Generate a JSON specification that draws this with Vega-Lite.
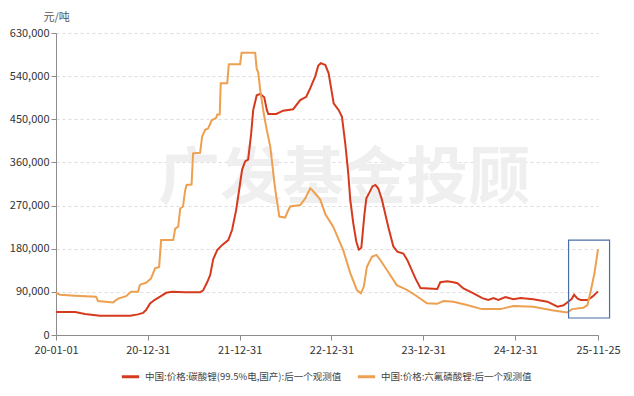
{
  "$schema": "https://vega.github.io/schema/vega-lite/v6.json",
  "autosize": {"type": "none"},
  "width": 542,
  "height": 302,
  "padding": {"left": 56, "top": 33, "right": 36, "bottom": 61},
  "background": "white",
  "config": {
    "font": "Noto Sans CJK SC",
    "view": {"stroke": null},
    "axis": {"labelFont": "Noto Sans CJK SC", "labelFontSize": 11, "labelColor": "#333333", "domainColor": "#8c8c8c", "tickColor": "#8c8c8c", "tickSize": 5}
  },
  "datasets": {
    "series": [
      {"date": "2020-01-01", "s": "中国:价格:碳酸锂(99.5%电,国产):后一个观测值", "v": 48000},
      {"date": "2020-03-17", "s": "中国:价格:碳酸锂(99.5%电,国产):后一个观测值", "v": 48000},
      {"date": "2020-04-25", "s": "中国:价格:碳酸锂(99.5%电,国产):后一个观测值", "v": 44000},
      {"date": "2020-06-24", "s": "中国:价格:碳酸锂(99.5%电,国产):后一个观测值", "v": 40000},
      {"date": "2020-10-22", "s": "中国:价格:碳酸锂(99.5%电,国产):后一个观测值", "v": 40000},
      {"date": "2020-11-22", "s": "中国:价格:碳酸锂(99.5%电,国产):后一个观测值", "v": 43000},
      {"date": "2020-12-12", "s": "中国:价格:碳酸锂(99.5%电,国产):后一个观测值", "v": 46000},
      {"date": "2020-12-24", "s": "中国:价格:碳酸锂(99.5%电,国产):后一个观测值", "v": 52000},
      {"date": "2021-01-09", "s": "中国:价格:碳酸锂(99.5%电,国产):后一个观测值", "v": 66000},
      {"date": "2021-01-29", "s": "中国:价格:碳酸锂(99.5%电,国产):后一个观测值", "v": 74000},
      {"date": "2021-02-18", "s": "中国:价格:碳酸锂(99.5%电,国产):后一个观测值", "v": 80000},
      {"date": "2021-03-14", "s": "中国:价格:碳酸锂(99.5%电,国产):后一个观测值", "v": 88000},
      {"date": "2021-04-07", "s": "中国:价格:碳酸锂(99.5%电,国产):后一个观测值", "v": 90000},
      {"date": "2021-05-28", "s": "中国:价格:碳酸锂(99.5%电,国产):后一个观测值", "v": 89000},
      {"date": "2021-07-27", "s": "中国:价格:碳酸锂(99.5%电,国产):后一个观测值", "v": 89000},
      {"date": "2021-08-08", "s": "中国:价格:碳酸锂(99.5%电,国产):后一个观测值", "v": 93000},
      {"date": "2021-08-24", "s": "中国:价格:碳酸锂(99.5%电,国产):后一个观测值", "v": 110000},
      {"date": "2021-09-05", "s": "中国:价格:碳酸锂(99.5%电,国产):后一个观测值", "v": 125000},
      {"date": "2021-09-17", "s": "中国:价格:碳酸锂(99.5%电,国产):后一个观测值", "v": 158000},
      {"date": "2021-10-03", "s": "中国:价格:碳酸锂(99.5%电,国产):后一个观测值", "v": 177000},
      {"date": "2021-10-23", "s": "中国:价格:碳酸锂(99.5%电,国产):后一个观测值", "v": 188000},
      {"date": "2021-11-16", "s": "中国:价格:碳酸锂(99.5%电,国产):后一个观测值", "v": 198000},
      {"date": "2021-12-01", "s": "中国:价格:碳酸锂(99.5%电,国产):后一个观测值", "v": 219000},
      {"date": "2021-12-17", "s": "中国:价格:碳酸锂(99.5%电,国产):后一个观测值", "v": 260000},
      {"date": "2021-12-29", "s": "中国:价格:碳酸锂(99.5%电,国产):后一个观测值", "v": 302000},
      {"date": "2022-01-10", "s": "中国:价格:碳酸锂(99.5%电,国产):后一个观测值", "v": 345000},
      {"date": "2022-01-22", "s": "中国:价格:碳酸锂(99.5%电,国产):后一个观测值", "v": 362000},
      {"date": "2022-02-03", "s": "中国:价格:碳酸锂(99.5%电,国产):后一个观测值", "v": 366000},
      {"date": "2022-02-15", "s": "中国:价格:碳酸锂(99.5%电,国产):后一个观测值", "v": 420000},
      {"date": "2022-02-23", "s": "中国:价格:碳酸锂(99.5%电,国产):后一个观测值", "v": 469000},
      {"date": "2022-03-09", "s": "中国:价格:碳酸锂(99.5%电,国产):后一个观测值", "v": 500000},
      {"date": "2022-03-23", "s": "中国:价格:碳酸锂(99.5%电,国产):后一个观测值", "v": 503000},
      {"date": "2022-04-08", "s": "中国:价格:碳酸锂(99.5%电,国产):后一个观测值", "v": 496000},
      {"date": "2022-04-18", "s": "中国:价格:碳酸锂(99.5%电,国产):后一个观测值", "v": 470000},
      {"date": "2022-04-24", "s": "中国:价格:碳酸锂(99.5%电,国产):后一个观测值", "v": 461000},
      {"date": "2022-05-26", "s": "中国:价格:碳酸锂(99.5%电,国产):后一个观测值", "v": 461000},
      {"date": "2022-06-22", "s": "中国:价格:碳酸锂(99.5%电,国产):后一个观测值", "v": 468000},
      {"date": "2022-08-01", "s": "中国:价格:碳酸锂(99.5%电,国产):后一个观测值", "v": 471000},
      {"date": "2022-08-29", "s": "中国:价格:碳酸锂(99.5%电,国产):后一个观测值", "v": 490000},
      {"date": "2022-09-22", "s": "中国:价格:碳酸锂(99.5%电,国产):后一个观测值", "v": 497000},
      {"date": "2022-10-08", "s": "中国:价格:碳酸锂(99.5%电,国产):后一个观测值", "v": 515000},
      {"date": "2022-10-28", "s": "中国:价格:碳酸锂(99.5%电,国产):后一个观测值", "v": 540000},
      {"date": "2022-11-09", "s": "中国:价格:碳酸锂(99.5%电,国产):后一个观测值", "v": 562000},
      {"date": "2022-11-19", "s": "中国:价格:碳酸锂(99.5%电,国产):后一个观测值", "v": 567000},
      {"date": "2022-12-07", "s": "中国:价格:碳酸锂(99.5%电,国产):后一个观测值", "v": 563000},
      {"date": "2022-12-20", "s": "中国:价格:碳酸锂(99.5%电,国产):后一个观测值", "v": 546000},
      {"date": "2023-01-09", "s": "中国:价格:碳酸锂(99.5%电,国产):后一个观测值", "v": 483000},
      {"date": "2023-01-29", "s": "中国:价格:碳酸锂(99.5%电,国产):后一个观测值", "v": 469000},
      {"date": "2023-02-11", "s": "中国:价格:碳酸锂(99.5%电,国产):后一个观测值", "v": 455000},
      {"date": "2023-02-24", "s": "中国:价格:碳酸锂(99.5%电,国产):后一个观测值", "v": 400000},
      {"date": "2023-03-08", "s": "中国:价格:碳酸锂(99.5%电,国产):后一个观测值", "v": 337000},
      {"date": "2023-03-16", "s": "中国:价格:碳酸锂(99.5%电,国产):后一个观测值", "v": 282000},
      {"date": "2023-03-28", "s": "中国:价格:碳酸锂(99.5%电,国产):后一个观测值", "v": 233000},
      {"date": "2023-04-09", "s": "中国:价格:碳酸锂(99.5%电,国产):后一个观测值", "v": 195000},
      {"date": "2023-04-19", "s": "中国:价格:碳酸锂(99.5%电,国产):后一个观测值", "v": 178000},
      {"date": "2023-04-29", "s": "中国:价格:碳酸锂(99.5%电,国产):后一个观测值", "v": 182000},
      {"date": "2023-05-11", "s": "中国:价格:碳酸锂(99.5%电,国产):后一个观测值", "v": 250000},
      {"date": "2023-05-19", "s": "中国:价格:碳酸锂(99.5%电,国产):后一个观测值", "v": 285000},
      {"date": "2023-05-29", "s": "中国:价格:碳酸锂(99.5%电,国产):后一个观测值", "v": 295000},
      {"date": "2023-06-12", "s": "中国:价格:碳酸锂(99.5%电,国产):后一个观测值", "v": 310000},
      {"date": "2023-06-24", "s": "中国:价格:碳酸锂(99.5%电,国产):后一个观测值", "v": 313000},
      {"date": "2023-07-06", "s": "中国:价格:碳酸锂(99.5%电,国产):后一个观测值", "v": 305000},
      {"date": "2023-07-20", "s": "中国:价格:碳酸锂(99.5%电,国产):后一个观测值", "v": 282000},
      {"date": "2023-08-14", "s": "中国:价格:碳酸锂(99.5%电,国产):后一个观测值", "v": 226000},
      {"date": "2023-09-03", "s": "中国:价格:碳酸锂(99.5%电,国产):后一个观测值", "v": 185000},
      {"date": "2023-09-19", "s": "中国:价格:碳酸锂(99.5%电,国产):后一个观测值", "v": 174000},
      {"date": "2023-10-13", "s": "中国:价格:碳酸锂(99.5%电,国产):后一个观测值", "v": 170000},
      {"date": "2023-10-29", "s": "中国:价格:碳酸锂(99.5%电,国产):后一个观测值", "v": 156000},
      {"date": "2023-11-30", "s": "中国:价格:碳酸锂(99.5%电,国产):后一个观测值", "v": 118000},
      {"date": "2023-12-20", "s": "中国:价格:碳酸锂(99.5%电,国产):后一个观测值", "v": 98000},
      {"date": "2024-02-25", "s": "中国:价格:碳酸锂(99.5%电,国产):后一个观测值", "v": 96000},
      {"date": "2024-03-08", "s": "中国:价格:碳酸锂(99.5%电,国产):后一个观测值", "v": 110000},
      {"date": "2024-04-05", "s": "中国:价格:碳酸锂(99.5%电,国产):后一个观测值", "v": 112000},
      {"date": "2024-04-29", "s": "中国:价格:碳酸锂(99.5%电,国产):后一个观测值", "v": 110000},
      {"date": "2024-05-15", "s": "中国:价格:碳酸锂(99.5%电,国产):后一个观测值", "v": 108000},
      {"date": "2024-06-08", "s": "中国:价格:碳酸锂(99.5%电,国产):后一个观测值", "v": 97000},
      {"date": "2024-07-18", "s": "中国:价格:碳酸锂(99.5%电,国产):后一个观测值", "v": 87000},
      {"date": "2024-08-22", "s": "中国:价格:碳酸锂(99.5%电,国产):后一个观测值", "v": 77000},
      {"date": "2024-09-15", "s": "中国:价格:碳酸锂(99.5%电,国产):后一个观测值", "v": 73000},
      {"date": "2024-10-05", "s": "中国:价格:碳酸锂(99.5%电,国产):后一个观测值", "v": 77000},
      {"date": "2024-10-25", "s": "中国:价格:碳酸锂(99.5%电,国产):后一个观测值", "v": 73000},
      {"date": "2024-11-22", "s": "中国:价格:碳酸锂(99.5%电,国产):后一个观测值", "v": 79000},
      {"date": "2024-12-24", "s": "中国:价格:碳酸锂(99.5%电,国产):后一个观测值", "v": 74500},
      {"date": "2025-01-21", "s": "中国:价格:碳酸锂(99.5%电,国产):后一个观测值", "v": 77000},
      {"date": "2025-03-13", "s": "中国:价格:碳酸锂(99.5%电,国产):后一个观测值", "v": 74500},
      {"date": "2025-05-08", "s": "中国:价格:碳酸锂(99.5%电,国产):后一个观测值", "v": 69500},
      {"date": "2025-06-17", "s": "中国:价格:碳酸锂(99.5%电,国产):后一个观测值", "v": 59000},
      {"date": "2025-07-11", "s": "中国:价格:碳酸锂(99.5%电,国产):后一个观测值", "v": 62000},
      {"date": "2025-07-31", "s": "中国:价格:碳酸锂(99.5%电,国产):后一个观测值", "v": 70000},
      {"date": "2025-08-12", "s": "中国:价格:碳酸锂(99.5%电,国产):后一个观测值", "v": 75000},
      {"date": "2025-08-22", "s": "中国:价格:碳酸锂(99.5%电,国产):后一个观测值", "v": 84000},
      {"date": "2025-09-05", "s": "中国:价格:碳酸锂(99.5%电,国产):后一个观测值", "v": 76000},
      {"date": "2025-09-17", "s": "中国:价格:碳酸锂(99.5%电,国产):后一个观测值", "v": 73000},
      {"date": "2025-10-14", "s": "中国:价格:碳酸锂(99.5%电,国产):后一个观测值", "v": 73000},
      {"date": "2025-11-03", "s": "中国:价格:碳酸锂(99.5%电,国产):后一个观测值", "v": 80000},
      {"date": "2025-11-25", "s": "中国:价格:碳酸锂(99.5%电,国产):后一个观测值", "v": 91000},

      {"date": "2020-01-01", "s": "中国:价格:六氟磷酸锂:后一个观测值", "v": 88000},
      {"date": "2020-01-17", "s": "中国:价格:六氟磷酸锂:后一个观测值", "v": 84000},
      {"date": "2020-03-17", "s": "中国:价格:六氟磷酸锂:后一个观测值", "v": 82000},
      {"date": "2020-06-08", "s": "中国:价格:六氟磷酸锂:后一个观测值", "v": 80000},
      {"date": "2020-06-16", "s": "中国:价格:六氟磷酸锂:后一个观测值", "v": 71000},
      {"date": "2020-08-15", "s": "中国:价格:六氟磷酸锂:后一个观测值", "v": 68000},
      {"date": "2020-09-04", "s": "中国:价格:六氟磷酸锂:后一个观测值", "v": 76000},
      {"date": "2020-10-06", "s": "中国:价格:六氟磷酸锂:后一个观测值", "v": 81000},
      {"date": "2020-10-25", "s": "中国:价格:六氟磷酸锂:后一个观测值", "v": 90000},
      {"date": "2020-11-22", "s": "中国:价格:六氟磷酸锂:后一个观测值", "v": 90000},
      {"date": "2020-11-30", "s": "中国:价格:六氟磷酸锂:后一个观测值", "v": 105000},
      {"date": "2020-12-24", "s": "中国:价格:六氟磷酸锂:后一个观测值", "v": 109000},
      {"date": "2021-01-13", "s": "中国:价格:六氟磷酸锂:后一个观测值", "v": 118000},
      {"date": "2021-01-29", "s": "中国:价格:六氟磷酸锂:后一个观测值", "v": 139000},
      {"date": "2021-02-14", "s": "中国:价格:六氟磷酸锂:后一个观测值", "v": 142000},
      {"date": "2021-02-22", "s": "中国:价格:六氟磷酸锂:后一个观测值", "v": 198000},
      {"date": "2021-04-11", "s": "中国:价格:六氟磷酸锂:后一个观测值", "v": 198000},
      {"date": "2021-04-19", "s": "中国:价格:六氟磷酸锂:后一个观测值", "v": 222000},
      {"date": "2021-05-01", "s": "中国:价格:六氟磷酸锂:后一个观测值", "v": 226000},
      {"date": "2021-05-09", "s": "中国:价格:六氟磷酸锂:后一个观测值", "v": 264000},
      {"date": "2021-05-20", "s": "中国:价格:六氟磷酸锂:后一个观测值", "v": 268000},
      {"date": "2021-05-28", "s": "中国:价格:六氟磷酸锂:后一个观测值", "v": 300000},
      {"date": "2021-06-03", "s": "中国:价格:六氟磷酸锂:后一个观测值", "v": 313000},
      {"date": "2021-06-23", "s": "中国:价格:六氟磷酸锂:后一个观测值", "v": 314000},
      {"date": "2021-06-29", "s": "中国:价格:六氟磷酸锂:后一个观测值", "v": 379000},
      {"date": "2021-07-27", "s": "中国:价格:六氟磷酸锂:后一个观测值", "v": 380000},
      {"date": "2021-08-04", "s": "中国:价格:六氟磷酸锂:后一个观测值", "v": 414000},
      {"date": "2021-08-16", "s": "中国:价格:六氟磷酸锂:后一个观测值", "v": 428000},
      {"date": "2021-08-28", "s": "中国:价格:六氟磷酸锂:后一个观测值", "v": 431000},
      {"date": "2021-09-11", "s": "中国:价格:六氟磷酸锂:后一个观测值", "v": 448000},
      {"date": "2021-09-29", "s": "中国:价格:六氟磷酸锂:后一个观测值", "v": 453000},
      {"date": "2021-10-03", "s": "中国:价格:六氟磷酸锂:后一个观测值", "v": 460000},
      {"date": "2021-10-13", "s": "中国:价格:六氟磷酸锂:后一个观测值", "v": 460000},
      {"date": "2021-10-17", "s": "中国:价格:六氟磷酸锂:后一个观测值", "v": 525000},
      {"date": "2021-11-12", "s": "中国:价格:六氟磷酸锂:后一个观测值", "v": 525000},
      {"date": "2021-11-18", "s": "中国:价格:六氟磷酸锂:后一个观测值", "v": 565000},
      {"date": "2022-01-02", "s": "中国:价格:六氟磷酸锂:后一个观测值", "v": 565000},
      {"date": "2022-01-08", "s": "中国:价格:六氟磷酸锂:后一个观测值", "v": 589000},
      {"date": "2022-03-03", "s": "中国:价格:六氟磷酸锂:后一个观测值", "v": 589000},
      {"date": "2022-03-09", "s": "中国:价格:六氟磷酸锂:后一个观测值", "v": 555000},
      {"date": "2022-03-15", "s": "中国:价格:六氟磷酸锂:后一个观测值", "v": 548000},
      {"date": "2022-03-23", "s": "中国:价格:六氟磷酸锂:后一个观测值", "v": 511000},
      {"date": "2022-04-06", "s": "中国:价格:六氟磷酸锂:后一个观测值", "v": 462000},
      {"date": "2022-04-18", "s": "中国:价格:六氟磷酸锂:后一个观测值", "v": 428000},
      {"date": "2022-05-02", "s": "中国:价格:六氟磷酸锂:后一个观测值", "v": 393000},
      {"date": "2022-05-14", "s": "中国:价格:六氟磷酸锂:后一个观测值", "v": 337000},
      {"date": "2022-05-22", "s": "中国:价格:六氟磷酸锂:后一个观测值", "v": 302000},
      {"date": "2022-05-28", "s": "中国:价格:六氟磷酸锂:后一个观测值", "v": 282000},
      {"date": "2022-06-07", "s": "中国:价格:六氟磷酸锂:后一个观测值", "v": 247000},
      {"date": "2022-06-30", "s": "中国:价格:六氟磷酸锂:后一个观测值", "v": 245000},
      {"date": "2022-07-08", "s": "中国:价格:六氟磷酸锂:后一个观测值", "v": 255000},
      {"date": "2022-07-20", "s": "中国:价格:六氟磷酸锂:后一个观测值", "v": 268000},
      {"date": "2022-08-29", "s": "中国:价格:六氟磷酸锂:后一个观测值", "v": 271000},
      {"date": "2022-09-18", "s": "中国:价格:六氟磷酸锂:后一个观测值", "v": 285000},
      {"date": "2022-10-08", "s": "中国:价格:六氟磷酸锂:后一个观测值", "v": 306000},
      {"date": "2022-10-16", "s": "中国:价格:六氟磷酸锂:后一个观测值", "v": 302000},
      {"date": "2022-11-05", "s": "中国:价格:六氟磷酸锂:后一个观测值", "v": 290000},
      {"date": "2022-11-17", "s": "中国:价格:六氟磷酸锂:后一个观测值", "v": 282000},
      {"date": "2022-12-07", "s": "中国:价格:六氟磷酸锂:后一个观测值", "v": 252000},
      {"date": "2023-01-07", "s": "中国:价格:六氟磷酸锂:后一个观测值", "v": 226000},
      {"date": "2023-02-16", "s": "中国:价格:六氟磷酸锂:后一个观测值", "v": 177000},
      {"date": "2023-03-16", "s": "中国:价格:六氟磷酸锂:后一个观测值", "v": 129000},
      {"date": "2023-04-11", "s": "中国:价格:六氟磷酸锂:后一个观测值", "v": 94000},
      {"date": "2023-04-27", "s": "中国:价格:六氟磷酸锂:后一个观测值", "v": 87000},
      {"date": "2023-05-09", "s": "中国:价格:六氟磷酸锂:后一个观测值", "v": 101000},
      {"date": "2023-05-21", "s": "中国:价格:六氟磷酸锂:后一个观测值", "v": 142000},
      {"date": "2023-06-10", "s": "中国:价格:六氟磷酸锂:后一个观测值", "v": 163000},
      {"date": "2023-06-28", "s": "中国:价格:六氟磷酸锂:后一个观测值", "v": 167000},
      {"date": "2023-07-14", "s": "中国:价格:六氟磷酸锂:后一个观测值", "v": 156000},
      {"date": "2023-08-08", "s": "中国:价格:六氟磷酸锂:后一个观测值", "v": 136000},
      {"date": "2023-09-17", "s": "中国:价格:六氟磷酸锂:后一个观测值", "v": 104000},
      {"date": "2023-10-27", "s": "中国:价格:六氟磷酸锂:后一个观测值", "v": 94000},
      {"date": "2023-11-30", "s": "中国:价格:六氟磷酸锂:后一个观测值", "v": 83000},
      {"date": "2024-01-15", "s": "中国:价格:六氟磷酸锂:后一个观测值", "v": 66000},
      {"date": "2024-02-24", "s": "中国:价格:六氟磷酸锂:后一个观测值", "v": 65000},
      {"date": "2024-03-21", "s": "中国:价格:六氟磷酸锂:后一个观测值", "v": 71000},
      {"date": "2024-04-29", "s": "中国:价格:六氟磷酸锂:后一个观测值", "v": 69500},
      {"date": "2024-06-22", "s": "中国:价格:六氟磷酸锂:后一个观测值", "v": 62500},
      {"date": "2024-08-20", "s": "中国:价格:六氟磷酸锂:后一个观测值", "v": 54000},
      {"date": "2024-11-02", "s": "中国:价格:六氟磷酸锂:后一个观测值", "v": 54000},
      {"date": "2024-12-24", "s": "中国:价格:六氟磷酸锂:后一个观测值", "v": 60500},
      {"date": "2025-03-13", "s": "中国:价格:六氟磷酸锂:后一个观测值", "v": 59000},
      {"date": "2025-06-01", "s": "中国:价格:六氟磷酸锂:后一个观测值", "v": 51000},
      {"date": "2025-07-25", "s": "中国:价格:六氟磷酸锂:后一个观测值", "v": 47000},
      {"date": "2025-08-14", "s": "中国:价格:六氟磷酸锂:后一个观测值", "v": 54000},
      {"date": "2025-09-28", "s": "中国:价格:六氟磷酸锂:后一个观测值", "v": 57000},
      {"date": "2025-10-14", "s": "中国:价格:六氟磷酸锂:后一个观测值", "v": 62500},
      {"date": "2025-10-28", "s": "中国:价格:六氟磷酸锂:后一个观测值", "v": 94000},
      {"date": "2025-11-11", "s": "中国:价格:六氟磷酸锂:后一个观测值", "v": 129000},
      {"date": "2025-11-25", "s": "中国:价格:六氟磷酸锂:后一个观测值", "v": 179000}
    ],
    "box": [
      {"start": "2025-07-31", "end": "2026-01-10", "low": 35500, "high": 198000}
    ],
    "mark": [
      {"date": "2023-02-20", "v": 323000, "label": "广发基金投顾"}
    ]
  },
  "layer": [
    {
      "data": {"name": "mark"},
      "mark": {"type": "text", "font": "Noto Sans CJK SC", "fontSize": 62, "fontWeight": "bold", "color": "#efefef", "align": "center", "baseline": "middle"},
      "encoding": {
        "x": {"field": "date", "type": "temporal"},
        "y": {"field": "v", "type": "quantitative"},
        "text": {"field": "label"}
      }
    },
    {
      "data": {"name": "series"},
      "mark": {"type": "line", "strokeWidth": 2},
      "encoding": {
        "x": {
          "field": "date", "type": "temporal",
          "scale": {"type": "utc", "domain": [{"year": 2020, "month": 1, "date": 1, "utc": true}, {"year": 2025, "month": 11, "date": 25, "utc": true}]},
          "axis": {
            "title": null, "grid": false,
            "labelExpr": "utcFormat(datum.value, '%y-%m-%d')",
            "values": [
              {"year": 2020, "month": 1, "date": 1, "utc": true},
              {"year": 2020, "month": 12, "date": 31, "utc": true},
              {"year": 2021, "month": 12, "date": 31, "utc": true},
              {"year": 2022, "month": 12, "date": 31, "utc": true},
              {"year": 2023, "month": 12, "date": 31, "utc": true},
              {"year": 2024, "month": 12, "date": 31, "utc": true},
              {"year": 2025, "month": 11, "date": 25, "utc": true}
            ],
            "labelPadding": 4, "labelFlush": false, "labelOverlap": false
          }
        },
        "y": {
          "field": "v", "type": "quantitative",
          "scale": {"domain": [0, 630000], "nice": false},
          "axis": {
            "title": "元/吨", "titleAngle": 0, "titleAlign": "left", "titleBaseline": "middle",
            "titleX": -13, "titleY": -16, "titleFont": "Noto Sans CJK SC", "titleFontSize": 11, "titleFontWeight": "normal", "titleColor": "#555555",
            "values": [0, 90000, 180000, 270000, 360000, 450000, 540000, 630000],
            "format": ",d", "grid": true, "gridDash": [3, 3], "gridColor": "#dddddd", "labelPadding": 2
          }
        },
        "color": {
          "field": "s", "type": "nominal",
          "scale": {"domain": ["中国:价格:碳酸锂(99.5%电,国产):后一个观测值", "中国:价格:六氟磷酸锂:后一个观测值"], "range": ["#d63a1e", "#eda050"]},
          "legend": {
            "title": null, "orient": "none", "direction": "horizontal", "legendX": 64, "legendY": 333,
            "symbolType": "stroke", "symbolStrokeWidth": 3, "symbolSize": 300, "labelFont": "Noto Sans CJK SC", "labelFontSize": 9.5, "labelColor": "#444444",
            "labelLimit": 400, "columnPadding": 9
          }
        }
      }
    },
    {
      "data": {"name": "box"},
      "mark": {"type": "rect", "fill": null, "fillOpacity": 0, "stroke": "#4a6ea8", "strokeWidth": 1.2},
      "encoding": {
        "x": {"field": "start", "type": "temporal"},
        "x2": {"field": "end"},
        "y": {"field": "high", "type": "quantitative"},
        "y2": {"field": "low"}
      }
    }
  ]
}
